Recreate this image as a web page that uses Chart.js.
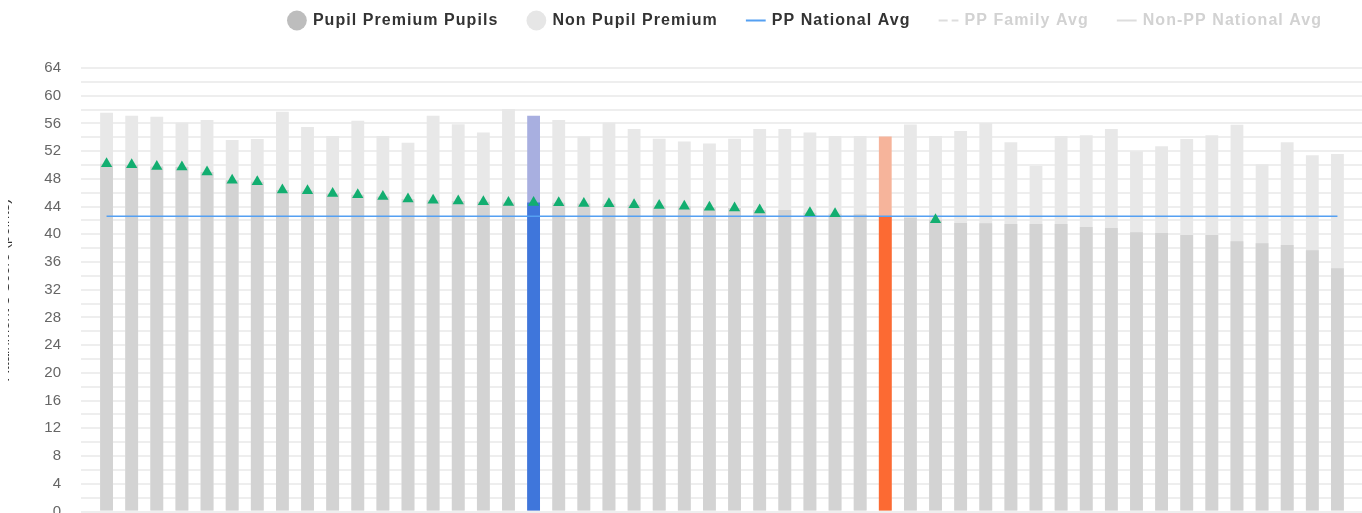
<!DOCTYPE html>
<html>
<head>
<meta charset="utf-8">
<script src="https://cdn.jsdelivr.net/npm/chart.js@4.4.1/dist/chart.umd.min.js"></script>
<style>
html, body { margin: 0; padding: 0; overflow: hidden; background: #ffffff; width: 1362px; height: 513px; }
#chart { position: absolute; left: 8px; top: 8px; }
</style>
</head>
<body>
<canvas id="chart" width="1595" height="505"></canvas>
<script>
// ---------------- data ----------------
const categories = [
  'S01','S02','S03','S04','S05','S06','S07','S08','S09','S10',
  'S11','S12','S13','S14','S15','S16','S17','S18','S19','S20',
  'S21','S22','S23','S24','S25','S26','S27','S28','S29','S30',
  'S31','S32','S33','S34','S35','S36','S37','S38','S39','S40',
  'S41','S42','S43','S44','S45','S46','S47','S48','S49','S50'
];

const ppScores = [
  50.2, 50.05, 49.8, 49.7, 49.0, 47.8, 47.6, 46.4, 46.3, 45.9,
  45.7, 45.45, 45.1, 44.9, 44.8, 44.7, 44.6, 44.6, 44.55, 44.45,
  44.4, 44.25, 44.15, 44.05, 43.9, 43.8, 43.5, 43.5, 43.1, 42.95,
  42.9, 42.55, 42.4, 42.1, 41.65, 41.6, 41.5, 41.5, 41.5, 41.05,
  40.9, 40.3, 40.2, 39.9, 39.9, 39.0, 38.7, 38.45, 37.7, 35.1
];

const nonPpScores = [
  57.55, 57.1, 56.95, 56.1, 56.5, 53.6, 53.75, 57.7, 55.5, 54.2,
  56.4, 54.2, 53.2, 57.1, 55.9, 54.7, 58.1, 57.1, 56.5, 54.1,
  56.1, 55.2, 53.8, 53.4, 53.1, 53.8, 55.2, 55.2, 54.7, 54.2,
  54.2, 54.1, 55.85, 54.2, 54.9, 56.05, 53.3, 49.85, 54.2, 54.3,
  55.2, 52.0, 52.7, 53.75, 54.3, 55.8, 50.1, 53.3, 51.4, 51.6
];

const ppNationalAvg = [
  42.6, 42.6, 42.6, 42.6, 42.6, 42.6, 42.6, 42.6, 42.6, 42.6,
  42.6, 42.6, 42.6, 42.6, 42.6, 42.6, 42.6, 42.6, 42.6, 42.6,
  42.6, 42.6, 42.6, 42.6, 42.6, 42.6, 42.6, 42.6, 42.6, 42.6,
  42.6, 42.6, 42.6, 42.6, 42.6, 42.6, 42.6, 42.6, 42.6, 42.6,
  42.6, 42.6, 42.6, 42.6, 42.6, 42.6, 42.6, 42.6, 42.6, 42.6
];

// hidden series (toggled off in the reference, values not visible)
const ppFamilyAvg = [];
const nonPpNationalAvg = [];

const familyMarkers = [
  50.2, 50.05, 49.8, 49.7, 49.0, 47.8, 47.6, 46.4, 46.3, 45.9,
  45.7, 45.45, 45.1, 44.9, 44.8, 44.7, 44.6, 44.6, 44.55, 44.45,
  44.4, 44.25, 44.15, 44.05, 43.9, 43.8, 43.5, null, 43.1, 42.95,
  null, null, null, 42.1, null, null, null, null, null, null,
  null, null, null, null, null, null, null, null, null, null
];

const yTickMin = 0;
const yTickMax = 64;
const yGridStep = 2;
const yLabelStep = 4;

const thisSchoolIndex = 17;
const comparisonSchoolIndex = 31;

// ---------------- styles ----------------
const PP_GREY = '#d3d3d3';
const NONPP_GREY = '#e8e8e8';
const BLUE = '#3f76db', BLUE_LIGHT = '#a8afe0';
const ORANGE = '#fc6a33', ORANGE_LIGHT = '#f6b49b';
const GRID = '#eeeeee';

const ppColors = categories.map((c, i) => i === thisSchoolIndex ? BLUE : (i === comparisonSchoolIndex ? ORANGE : PP_GREY));
const nonPpColors = categories.map((c, i) => i === thisSchoolIndex ? BLUE_LIGHT : (i === comparisonSchoolIndex ? ORANGE_LIGHT : NONPP_GREY));

Chart.defaults.font.family = "'Liberation Sans', Arial, sans-serif";

const legendSpacing = {
  id: 'legendSpacing',
  afterInit(chart) {
    const lg = chart.legend;
    if (!lg) return;
    ['fit', 'draw'].forEach(fn => {
      const orig = lg[fn].bind(lg);
      lg[fn] = function (...args) {
        const ctx = chart.ctx;
        const prev = ctx.letterSpacing;
        ctx.letterSpacing = '1.05px';
        try { return orig(...args); } finally { ctx.letterSpacing = prev; }
      };
    });
  }
};

new Chart(document.getElementById('chart'), {
  data: {
    labels: categories,
    datasets: [
      {
        type: 'bar', label: 'Pupil Premium Pupils', data: ppScores,
        backgroundColor: ppColors, borderWidth: 0, order: 2,
        barPercentage: 0.51, categoryPercentage: 1, yAxisID: 'y',
        legendStyle: { fill: '#bdbdbd', stroke: '#bdbdbd', lineWidth: 0, pointStyle: 'circle', text: '#333333' }
      },
      {
        type: 'bar', label: 'Non Pupil Premium', data: nonPpScores,
        backgroundColor: nonPpColors, borderWidth: 0, order: 3,
        barPercentage: 0.51, categoryPercentage: 1, yAxisID: 'y',
        legendStyle: { fill: '#e6e6e6', stroke: '#e6e6e6', lineWidth: 0, pointStyle: 'circle', text: '#333333' }
      },
      {
        type: 'line', label: 'PP National Avg', data: ppNationalAvg,
        borderColor: '#55a0f2', borderWidth: 1.5, pointRadius: 0, fill: false, order: 1, yAxisID: 'y',
        legendStyle: { fill: '#55a0f2', stroke: '#55a0f2', lineWidth: 2, pointStyle: 'line', text: '#333333' }
      },
      {
        type: 'line', label: 'PP Family Avg', data: ppFamilyAvg, hidden: true,
        borderColor: '#dddddd', borderDash: [7, 4], borderWidth: 1.5, pointRadius: 0, order: 1, yAxisID: 'y',
        legendStyle: { fill: '#dddddd', stroke: '#dddddd', lineWidth: 2, pointStyle: 'line', dash: [9, 4], text: '#d2d2d2' }
      },
      {
        type: 'line', label: 'Non-PP National Avg', data: nonPpNationalAvg, hidden: true,
        borderColor: '#dddddd', borderWidth: 1.5, pointRadius: 0, order: 1, yAxisID: 'y',
        legendStyle: { fill: '#dddddd', stroke: '#dddddd', lineWidth: 2, pointStyle: 'line', text: '#d2d2d2' }
      },
      {
        type: 'line', label: 'Markers', data: familyMarkers,
        showLine: false, pointStyle: 'triangle', pointRadius: 6.5, pointHoverRadius: 6.5,
        pointBackgroundColor: '#12ae70', pointBorderColor: '#12ae70', pointBorderWidth: 0,
        order: 0, yAxisID: 'y'
      }
    ]
  },
  options: {
    responsive: false,
    devicePixelRatio: 1,
    animation: false,
    layout: { autoPadding: false, padding: { top: -25.5, bottom: 1.5, left: 0, right: 0 } },
    plugins: {
      tooltip: { enabled: false },
      legend: {
        position: 'top',
        align: 'center',
        maxHeight: 55,
        labels: {
          usePointStyle: true,
          boxHeight: 14,
          padding: 30,
          font: { size: 16, weight: 'bold' },
          color: '#333333',
          generateLabels(chart) {
            return chart.data.datasets.map((ds, i) => ds.legendStyle ? {
              text: ds.label,
              datasetIndex: i,
              hidden: false,
              fontColor: ds.legendStyle.text,
              fillStyle: ds.legendStyle.fill,
              strokeStyle: ds.legendStyle.stroke,
              lineWidth: ds.legendStyle.lineWidth,
              lineDash: ds.legendStyle.dash || [],
              pointStyle: ds.legendStyle.pointStyle
            } : null).filter(Boolean);
          }
        }
      }
    },
    scales: {
      x: {
        type: 'category',
        position: 'top',
        stacked: true,
        grid: { display: false },
        border: { display: false },
        ticks: { display: false },
        afterFit(s) { s.height = 30.5; }
      },
      y: {
        type: 'linear',
        position: 'left',
        stacked: false,
        min: yTickMin,
        max: yTickMax,
        grid: { color: GRID, lineWidth: 2, tickLength: 13, drawTicks: true },
        border: { display: false },
        ticks: {
          stepSize: yGridStep,
          autoSkip: false,
          padding: 20,
          color: '#666666',
          font: { size: 15 },
          callback: (v) => (v % yLabelStep === 0 ? String(v) : '')
        },
        title: {
          display: true,
          text: 'Attainment 8 Score (points)',
          color: '#333333',
          font: { size: 15 },
          padding: { top: -12.5, bottom: 0 }
        },
        afterFit(s) { s.width = 86; s.paddingTop = 0; s.paddingBottom = 0; }
      },
      yR: {
        type: 'linear',
        position: 'right',
        min: yTickMin,
        max: yTickMax,
        grid: { color: GRID, lineWidth: 2, tickLength: 12, drawOnChartArea: false, drawTicks: true },
        border: { display: false },
        ticks: { display: false, stepSize: yGridStep, autoSkip: false },
        afterFit(s) { s.width = 253; s.paddingTop = 0; s.paddingBottom = 0; }
      }
    }
  },
  plugins: [legendSpacing]
});
</script>
</body>
</html>
